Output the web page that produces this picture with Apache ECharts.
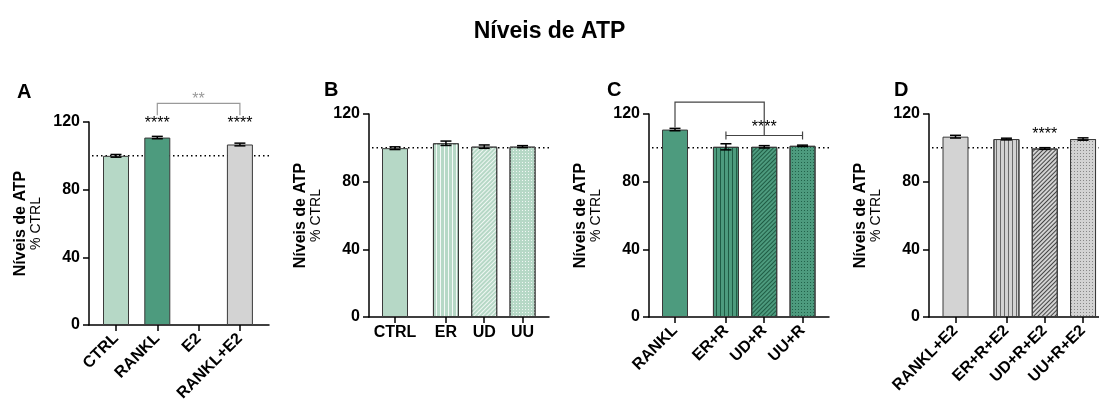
<!DOCTYPE html>
<html><head><meta charset="utf-8">
<script src="https://cdn.jsdelivr.net/npm/echarts@6/dist/echarts.min.js"></script>
<style>html,body{margin:0;padding:0;background:#fff}#c{width:1099px;height:405px}</style>
</head><body><div id="c"></div>
<script>
// ---------- DATA ----------
const mainTitle = 'Níveis de ATP';
const panelLetters = ['A', 'B', 'C', 'D'];
const yTicks = [0, 40, 80, 120];

const catsA = ['CTRL', 'RANKL', 'E2', 'RANKL+E2'];
const valsA = [100, 110.8, null, 106.7];
const errA  = [0.8, 0.7, null, 0.8];

const catsB = ['CTRL', 'ER', 'UD', 'UU'];
const valsB = [99.8, 102.7, 100.7, 100.7];
const errB  = [0.8, 1.3, 1.0, 0.6];

const catsC = ['RANKL', 'ER+R', 'UD+R', 'UU+R'];
const valsC = [110.8, 100.6, 100.6, 101.2];
const errC  = [0.7, 1.8, 0.7, 0.4];

const catsD = ['RANKL+E2', 'ER+R+E2', 'UD+R+E2', 'UU+R+E2'];
const valsD = [106.6, 105.2, 99.6, 105.2];
const errD  = [0.8, 0.5, 0.5, 0.7];

const refLevel = 100;

// significance annotations (data units)
const starsA = [{cat: 1, y: 119.3, text: '****'}, {cat: 3, y: 119.3, text: '****'}, {cat: 2, y: 133.3, text: '**', grey: true}];
const bracketsA = [{from: 1, to: 3, top: 131, left: 124, right: 124, grey: true}];
const starsC = [{cat: 2, y: 111.8, text: '****'}];
const bracketsC = [{from: 0, to: 2, top: 127, left: 112, right: 107.3}];
const spanC = [{from: 1, to: 3, y: 107.3}];
const starsD = [{cat: 2, y: 108, text: '****'}];

// ---------- STYLE / LAYOUT ----------
const FONT = "'Liberation Sans', Arial, sans-serif";
const lightGreen = '#b6d8c6', green = '#4d9b7e', grey = '#d3d3d3';
function vStripe(c, gap){ return {symbol:'rect', symbolSize:1, dashArrayX:[1, gap], dashArrayY:[4, 0], rotation:0, color:c}; }
function diag(c){ return {symbol:'rect', symbolSize:1, dashArrayX:[1, 2], dashArrayY:[4, 0], rotation:Math.PI/4, color:c}; }
function dots(c){ return {symbol:'rect', symbolSize:1, dashArrayX:[1, 2], dashArrayY:[1, 2], rotation:0, color:c}; }
const barStyles = {
  A: [{color: lightGreen}, {color: green}, {color: grey}, {color: grey}],
  B: [{color: lightGreen}, {color: lightGreen, decal: vStripe('rgba(255,255,255,0.85)', 3)}, {color: lightGreen, decal: diag('rgba(255,255,255,0.8)')}, {color: lightGreen, decal: dots('rgba(255,255,255,0.8)')}],
  C: [{color: green}, {color: green, decal: vStripe('#1f5c44', 3)}, {color: green, decal: diag('#1f5c44')}, {color: green, decal: dots('#22624a')}],
  D: [{color: grey}, {color: grey, decal: vStripe('#6a6a6a', 3)}, {color: grey, decal: diag('#444')}, {color: grey, decal: dots('#888')}]
};
const posEven = i => i;
const posGap = i => (i === 0 ? 0 : i + 0.33);

const panels = [
  {key:'A', cats:catsA, vals:valsA, err:errA, pos:posEven, left:89, top:122, width:180, unit:41.3, first:27, rotate:45, stars:starsA, brackets:bracketsA, spans:[]},
  {key:'B', cats:catsB, vals:valsB, err:errB, pos:posGap, left:369, top:114, width:180, unit:38.3, first:26, rotate:0, stars:[], brackets:[], spans:[]},
  {key:'C', cats:catsC, vals:valsC, err:errC, pos:posGap, left:649, top:114, width:180, unit:38.3, first:26, rotate:45, stars:starsC, brackets:bracketsC, spans:spanC},
  {key:'D', cats:catsD, vals:valsD, err:errD, pos:posGap, left:929, top:114, width:172, unit:38.3, first:26.5, rotate:45, stars:starsD, brackets:[], spans:[]}
];
const gridH = 203;

const grid = [], xAxis = [], yAxis = [], series = [];
panels.forEach((p, gi) => {
  grid.push({left:p.left, top:p.top, width:p.width, height:gridH, containLabel:false, outerBoundsMode:'none'});
  const min = -p.first / p.unit, max = min + p.width / p.unit;
  const positions = p.cats.map((c, i) => p.pos(i));
  xAxis.push({
    type:'value', gridIndex:gi, min:min, max:max,
    axisLine:{show:true, onZero:false, lineStyle:{color:'#000', width:1.5}},
    axisTick:{show:true, customValues:positions, length:6, lineStyle:{color:'#000', width:1.5}},
    axisLabel:{show:true, customValues:positions, rotate:p.rotate, margin:p.rotate ? 11 : 8,
      color:'#000', fontFamily:FONT, fontWeight:'bold', fontSize:16,
      formatter: v => { let bi = 0; positions.forEach((q, i) => { if (Math.abs(q - v) < Math.abs(positions[bi] - v)) bi = i; }); return p.cats[bi]; }},
    splitLine:{show:false}
  });
  yAxis.push({
    type:'value', gridIndex:gi, min:0, max:120, interval:40,
    name:'{b|Níveis de ATP}\n{n|% CTRL}', nameLocation:'middle', nameGap:45, nameRotate:90,
    nameTextStyle:{rich:{b:{fontFamily:FONT, fontWeight:'bold', fontSize:16, color:'#000', lineHeight:16, align:'center'},
                         n:{fontFamily:FONT, fontSize:14, color:'#000', lineHeight:15, align:'center'}}},
    axisLine:{show:true, onZero:false, lineStyle:{color:'#000', width:1.5}},
    axisTick:{show:true, length:6, lineStyle:{color:'#000', width:1.5}},
    axisLabel:{color:'#000', fontFamily:FONT, fontWeight:'bold', fontSize:16, margin:9},
    splitLine:{show:false}
  });
  const positionsLocal = positions;
  // reference dotted line (behind bars), spans the plot width
  series.push({type:'custom', xAxisIndex:gi, yAxisIndex:gi, data:[[refLevel]], z:1, silent:true, clip:false,
    encode:{y:0},
    renderItem:(params, api) => {
      const cs = params.coordSys;
      const yy = api.coord([0, refLevel])[1];
      return {type:'line', shape:{x1:cs.x + 3, y1:yy, x2:cs.x + cs.width, y2:yy},
        style:{stroke:'#000', lineWidth:1.5, lineDash:[1.5, 3]}};
    }});
  // bars
  const barData = [];
  p.vals.forEach((v, i) => { if (v != null) barData.push({value:[positionsLocal[i], v], itemStyle:barStyles[p.key][i]}); });
  series.push({type:'bar', xAxisIndex:gi, yAxisIndex:gi, data:barData, barWidth:26, z:2,
    itemStyle:{borderColor:'#3a3a3a', borderWidth:1}, silent:true, animation:false});
  // error bars
  const errData = [];
  p.vals.forEach((v, i) => { if (v != null) errData.push([positionsLocal[i], v - p.err[i], v + p.err[i]]); });
  series.push({type:'custom', xAxisIndex:gi, yAxisIndex:gi, data:errData, z:3, silent:true, clip:false,
    dimensions:['x', 'lo', 'hi'], encode:{x:0, y:[1, 2]},
    renderItem:(params, api) => {
      const d = errData[params.dataIndex];
      const lo = api.coord([d[0], d[1]]), hi = api.coord([d[0], d[2]]);
      const cw = 5.5, st = {stroke:'#000', lineWidth:1.5};
      return {type:'group', children:[
        {type:'line', shape:{x1:lo[0], y1:lo[1], x2:hi[0], y2:hi[1]}, style:st},
        {type:'line', shape:{x1:hi[0]-cw, y1:hi[1], x2:hi[0]+cw, y2:hi[1]}, style:st},
        {type:'line', shape:{x1:lo[0]-cw, y1:lo[1], x2:lo[0]+cw, y2:lo[1]}, style:st}
      ]};
    }});
  // brackets
  if (p.brackets.length) {
    const bd = p.brackets.map(b => [positionsLocal[b.from], positionsLocal[b.to], b.top, b.left, b.right, b.grey ? 1 : 0]);
    series.push({type:'custom', xAxisIndex:gi, yAxisIndex:gi, clip:false, silent:true, z:4, data:bd,
      dimensions:['x1', 'x2', 't', 'l', 'r', 'g'], encode:{x:[0, 1], y:[2, 3, 4]},
      renderItem:(params, api) => {
        const d = bd[params.dataIndex];
        const a = api.coord([d[0], d[3]]), b = api.coord([d[0], d[2]]);
        const c = api.coord([d[1], d[2]]), e = api.coord([d[1], d[4]]);
        return {type:'polyline', shape:{points:[a, b, c, e]}, style:{stroke: d[5] ? '#9a9a9a' : '#444', lineWidth:1.2, fill:null}};
      }});
  }
  if (p.spans.length) {
    const sd = p.spans.map(s => [positionsLocal[s.from], positionsLocal[s.to], s.y]);
    series.push({type:'custom', xAxisIndex:gi, yAxisIndex:gi, clip:false, silent:true, z:4, data:sd,
      dimensions:['x1', 'x2', 'y'], encode:{x:[0, 1], y:2},
      renderItem:(params, api) => {
        const d = sd[params.dataIndex];
        const a = api.coord([d[0], d[2]]), b = api.coord([d[1], d[2]]);
        const st = {stroke:'#444', lineWidth:1.2};
        return {type:'group', children:[
          {type:'line', shape:{x1:a[0], y1:a[1], x2:b[0], y2:b[1]}, style:st},
          {type:'line', shape:{x1:a[0], y1:a[1]-4, x2:a[0], y2:a[1]+4}, style:st},
          {type:'line', shape:{x1:b[0], y1:b[1]-4, x2:b[0], y2:b[1]+4}, style:st}
        ]};
      }});
  }
  if (p.stars.length) {
    const td = p.stars.map(s => [positionsLocal[s.cat], s.y]);
    series.push({type:'custom', xAxisIndex:gi, yAxisIndex:gi, clip:false, silent:true, z:5, data:td,
      encode:{x:0, y:1},
      renderItem:(params, api) => {
        const s = p.stars[params.dataIndex];
        const pt = api.coord(td[params.dataIndex]);
        return {type:'text', x:pt[0], y:pt[1], style:{text:s.text, fill: s.grey ? '#9a9a9a' : '#000',
          font:'16px ' + FONT, align:'center', verticalAlign:'middle'}};
      }});
  }
});

const letterPos = [17, 324, 607, 894];
const titles = [{text:mainTitle, left:'center', top:15, textStyle:{fontFamily:FONT, fontWeight:'bold', fontSize:23, color:'#000'}}];
panelLetters.forEach((l, i) => titles.push({text:l, left:letterPos[i], top:i === 0 ? 82 : 80, padding:0,
  textStyle:{fontFamily:FONT, fontWeight:'bold', fontSize:20, color:'#000'}}));

const chart = echarts.init(document.getElementById('c'), null, {renderer:'canvas'});
chart.setOption({animation:false, backgroundColor:'#fff', title:titles, grid:grid, xAxis:xAxis, yAxis:yAxis, series:series, tooltip:{show:false}});
</script></body></html>
